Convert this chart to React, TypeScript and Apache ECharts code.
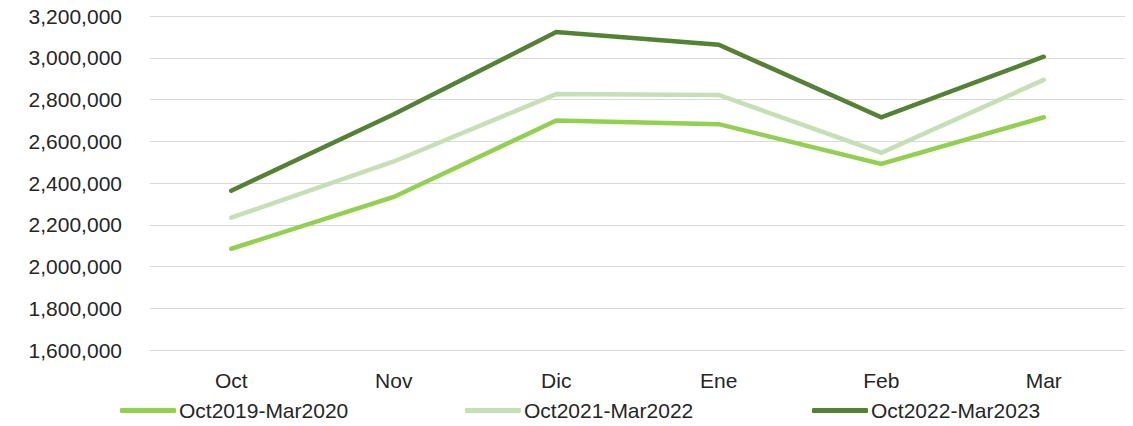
import React, { useEffect, useRef } from "react";
import * as echarts from "echarts";

const categories = ["Oct", "Nov", "Dic", "Ene", "Feb", "Mar"];
const seriesNames = ["Oct2019-Mar2020", "Oct2021-Mar2022", "Oct2022-Mar2023"];
const s2019 = [2085000, 2333000, 2699000, 2682000, 2491000, 2715000];
const s2021 = [2234000, 2503000, 2826000, 2822000, 2545000, 2894000];
const s2022 = [2363000, 2729000, 3123000, 3062000, 2715000, 3005000];
const colors = ["#92D050", "#C5E0B4", "#548235"];
const yMin = 1600000;
const yMax = 3200000;
const yInterval = 200000;

const FONT = "Liberation Sans";

export default function App() {
  const ref = useRef<HTMLDivElement>(null);
  useEffect(() => {
    if (!ref.current) return;
    const chart = echarts.init(ref.current, null, { renderer: "svg" });
    const data = [s2019, s2021, s2022];
    const legendLefts = [120, 465, 812];
    chart.setOption({
      animation: false,
      grid: { left: 150, right: 8, top: 16, bottom: 76 },
      xAxis: {
        type: "category",
        data: categories,
        boundaryGap: true,
        axisLine: { show: false },
        axisTick: { show: false },
        axisLabel: { color: "#262626", fontFamily: FONT, fontSize: 21, margin: 20 },
      },
      yAxis: {
        type: "value",
        min: yMin,
        max: yMax,
        interval: yInterval,
        axisLine: { show: false },
        axisTick: { show: false },
        splitLine: { lineStyle: { color: "#D9D9D9", width: 1 } },
        axisLabel: {
          color: "#262626",
          fontFamily: FONT,
          fontSize: 21,
          margin: 28,
          formatter: (v: number) => v.toLocaleString("en-US"),
        },
      },
      legend: seriesNames.map((n, i) => ({
        data: [n],
        left: legendLefts[i],
        top: 400,
        padding: 0,
        icon: "roundRect",
        itemWidth: 56,
        itemHeight: 5,
        itemGap: 0,
        textStyle: { color: "#262626", fontFamily: FONT, fontSize: 21, padding: [0, 0, 0, -2] },
      })),
      series: seriesNames.map((n, i) => ({
        name: n,
        type: "line",
        data: data[i],
        symbol: "none",
        color: colors[i],
        lineStyle: { color: colors[i], width: 4.5, cap: "round", join: "miter" },
        itemStyle: { color: colors[i] },
      })),
    });
    return () => chart.dispose();
  }, []);
  return <div ref={ref} style={{ width: 1133, height: 426, margin: -8 }} />;
}
